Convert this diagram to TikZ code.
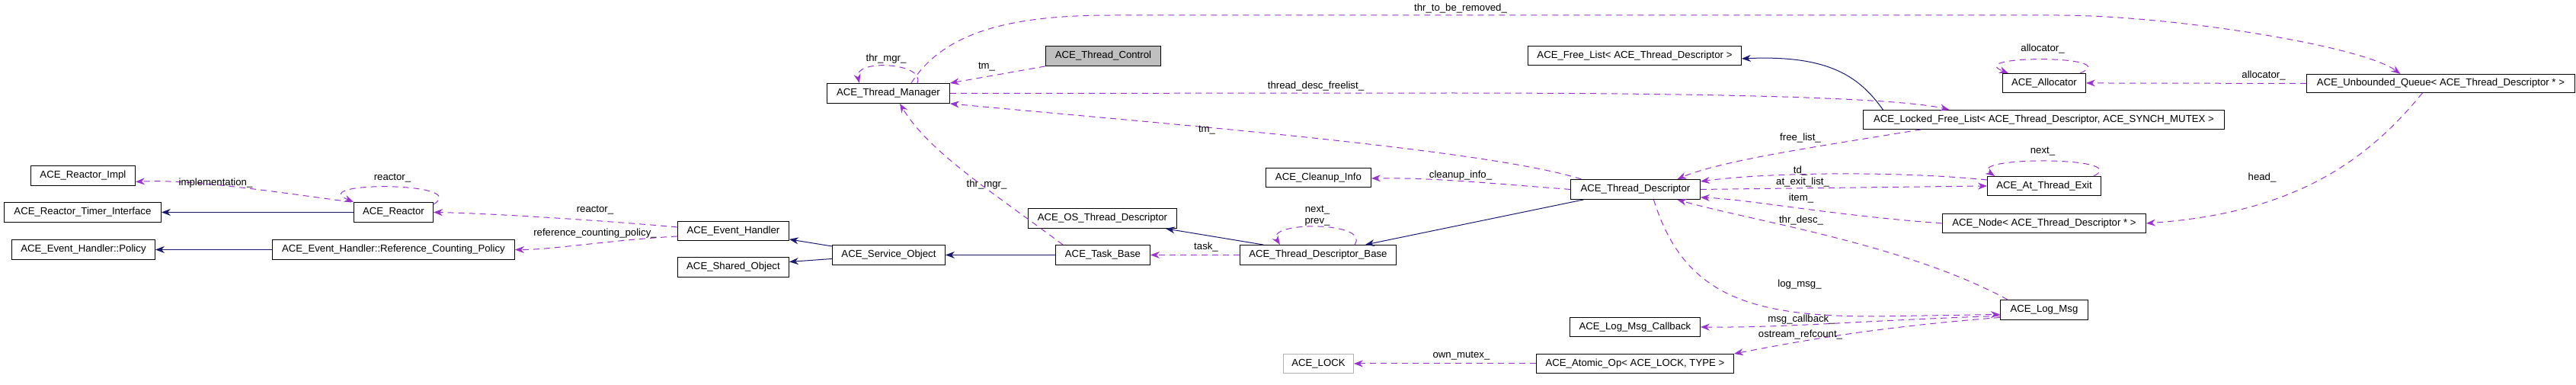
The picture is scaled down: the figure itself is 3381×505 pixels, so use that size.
\documentclass[tikz,border=0pt]{standalone}
\usepackage{fontspec}
\setmainfont{Liberation Sans}
\usetikzlibrary{arrows.meta,calc}
\definecolor{pu}{HTML}{9A32CD}
\definecolor{nv}{HTML}{191970}
\newcommand{\bx}[6]{\node[box,minimum width={(#4-#2)*1pt},minimum height={(#5-#3)*1pt}] (#1) at (#2,#3) {#6};}
\begin{document}
\begin{tikzpicture}[x=1pt,y=-1pt,
  box/.style={draw=black,line width=0.9pt,anchor=north west,inner sep=0pt,font=\fontsize{13.2}{15}\selectfont},
  lbl/.style={font=\fontsize{13.2}{15}\selectfont,inner sep=1pt},
  use/.style={draw=pu,line width=1pt,dash pattern=on 8pt off 6pt,-{Stealth[length=12pt,width=9pt]}},
  inh/.style={draw=nv,line width=1pt,-{Stealth[length=12pt,width=9pt]}}]
\useasboundingbox (0,0) rectangle (3381,505);
% nodes
\bx{ri}{40}{217}{177}{243}{ACE\_Reactor\_Impl}
\bx{rti}{5}{265}{211}{291}{ACE\_Reactor\_Timer\_Interface}
\bx{po}{15}{314}{203}{340}{ACE\_Event\_Handler::Policy}
\bx{re}{464}{265}{568}{291}{ACE\_Reactor}
\bx{rcp}{357}{314}{675}{340}{ACE\_Event\_Handler::Reference\_Counting\_Policy}
\bx{eh}{889}{290}{1035}{315}{ACE\_Event\_Handler}
\bx{sh}{889}{337}{1035}{363}{ACE\_Shared\_Object}
\bx{so}{1092}{321}{1240}{347}{ACE\_Service\_Object}
\bx{tm}{1085}{109}{1246}{135}{ACE\_Thread\_Manager}
\node[box,fill=black!25,minimum width=151pt,minimum height=26pt] (tc) at (1372,60) {ACE\_Thread\_Control};
\bx{ci}{1661}{220}{1799}{245}{ACE\_Cleanup\_Info}
\bx{ostd}{1349}{273}{1544}{299}{ACE\_OS\_Thread\_Descriptor}
\bx{tb}{1385}{321}{1509}{347}{ACE\_Task\_Base}
\bx{tdb}{1627}{321}{1832}{347}{ACE\_Thread\_Descriptor\_Base}
\bx{fl}{2005}{60}{2285}{85}{ACE\_Free\_List< ACE\_Thread\_Descriptor >}
\bx{td}{2061}{235}{2231}{261}{ACE\_Thread\_Descriptor}
\bx{lfl}{2445}{144}{2919}{169}{ACE\_Locked\_Free\_List< ACE\_Thread\_Descriptor, ACE\_SYNCH\_MUTEX >}
\bx{al}{2628}{96}{2737}{121}{ACE\_Allocator}
\bx{uq}{3027}{97}{3379}{121}{ACE\_Unbounded\_Queue< ACE\_Thread\_Descriptor * >}
\bx{ate}{2608}{231}{2757}{256}{ACE\_At\_Thread\_Exit}
\bx{nd}{2549}{280}{2816}{305}{ACE\_Node< ACE\_Thread\_Descriptor * >}
\bx{lm}{2625}{393}{2740}{419}{ACE\_Log\_Msg}
\bx{lcb}{2060}{416}{2231}{441}{ACE\_Log\_Msg\_Callback}
\bx{ao}{2016}{464}{2275}{489}{ACE\_Atomic\_Op< ACE\_LOCK, TYPE >}
\node[box,draw=black!30,minimum width=92pt,minimum height=25pt] (lock) at (1684,464) {ACE\_LOCK};
% inheritance
\draw[inh] (re.west) -- (rti.east);
\draw[inh] (rcp.west) -- (po.east);
\draw[inh] ([yshift=-2pt]so.north west) -- ([yshift=2pt]eh.south east);
\draw[inh] ([yshift=-5pt]so.west) -- ([yshift=7pt]sh.east);
\draw[inh] (tb.west) -- (so.east);
\draw[inh] ([xshift=-72pt]tdb.north) -- ([xshift=83pt]ostd.south);
\draw[inh] ([xshift=-68pt]td.south) -- ([xshift=62pt]tdb.north);
\draw[inh] ([xshift=-211pt]lfl.north) .. controls (2440,100) and (2400,72) .. ([yshift=-4pt]fl.east);
% usage
\draw[use] (tc.south west) -- (tm.north east);
\draw[use] ([xshift=38pt]tm.north) .. controls (1215,82) and (1120,77) .. ([xshift=-38pt]tm.north);
\draw[use] ([xshift=30pt]tm.north) .. controls (1240,40) and (1330,20) .. (1460,20) -- (2700,20) .. controls (2850,20) and (3100,60) .. ([xshift=-53pt]uq.north);
\draw[use] (tm.east) -- (1900,122) .. controls (2300,122) and (2500,130) .. ([xshift=-124pt]lfl.north);
\draw[use] ([xshift=-71pt]td.north) .. controls (1950,195) and (1500,160) .. (tm.south east);
\draw[use] ([xshift=10pt]tb.north west) .. controls (1300,250) and (1220,200) .. ([xshift=15pt]tm.south);
\draw[use] (td.west) .. controls (1950,240) and (1880,233) .. ([yshift=-1pt]ci.east);
\draw[use] ([xshift=-161pt]lfl.south) .. controls (2400,190) and (2260,210) .. ([xshift=55pt]td.north);
\draw[use] ([yshift=-5pt]ate.north west) .. controls (2500,225) and (2330,225) .. ([yshift=-3pt]td.north east);
\draw[use] (td.east) -- (ate.west);
\draw[use] ([xshift=-10pt]ate.north east) .. controls (2800,205) and (2580,205) .. ([xshift=10pt]ate.north west);
\draw[use] (nd.west) .. controls (2400,282) and (2300,262) .. ([yshift=3pt]td.south east);
\draw[use] ([xshift=10pt]lm.north west) .. controls (2500,320) and (2300,290) .. ([xshift=55pt]td.south);
\draw[use] ([xshift=24pt]td.south) .. controls (2210,390) and (2300,415) .. (2461,415) -- ([yshift=-6pt]lm.west);
\draw[use] ([yshift=-8pt]lm.west) .. controls (2450,420) and (2350,430) .. (lcb.east);
\draw[use] ([yshift=-10pt]lm.west) .. controls (2450,430) and (2350,450) .. (ao.north east);
\draw[use] (ao.west) -- (lock.east);
\draw[use] ([xshift=-24pt]uq.south) .. controls (3100,220) and (3000,280) .. (nd.east);
\draw[use] (uq.west) -- (al.east);
\draw[use] ([xshift=-8pt]al.north east) .. controls (2790,72) and (2575,72) .. ([xshift=8pt]al.north west);
\draw[use] (tdb.west) -- (tb.east);
\draw[use] ([xshift=48pt]tdb.north) .. controls (1800,290) and (1660,290) .. ([xshift=-50pt]tdb.north);
\draw[use] ([yshift=5pt]eh.west) .. controls (800,290) and (650,280) .. (re.east);
\draw[use] ([yshift=-7pt]eh.west) .. controls (800,315) and (720,328) .. (rcp.east);
\draw[use] ([xshift=-3pt]re.north west) .. controls (350,250) and (250,235) .. ([yshift=-8pt]ri.east);
\draw[use] ([yshift=-3pt]re.north east) .. controls (620,238) and (400,238) .. (re.north west);
% labels
\node[lbl] (l1) at (1295,88) {tm\_};
\node[lbl] (l2) at (1163,77) {thr\_mgr\_};
\node[lbl] (l3) at (1917,11) {thr\_to\_be\_removed\_};
\node[lbl] (l4) at (1727,113) {thread\_desc\_freelist\_};
\node[lbl] (l5) at (1584,171) {tm\_};
\node[lbl] (l6) at (1295,242) {thr\_mgr\_};
\node[lbl] (l7) at (1917,230) {cleanup\_info\_};
\node[lbl] (l8) at (2363,181) {free\_list\_};
\node[lbl] (l9) at (2363,224) {td\_};
\node[lbl] (l10) at (2366,239) {at\_exit\_list\_};
\node[lbl] (l11) at (2364,260) {item\_};
\node[lbl] (l12) at (2364,289) {thr\_desc\_};
\node[lbl] (l13) at (2681,199) {next\_};
\node[lbl] (l14) at (2681,64) {allocator\_};
\node[lbl] (l15) at (2971,99) {allocator\_};
\node[lbl] (l16) at (2969,233) {head\_};
\node[lbl] (l17) at (1729,276) {next\_};
\node[lbl] (l18) at (1729,291) {prev\_};
\node[lbl] (l19) at (1583,324) {task\_};
\node[lbl] (l20) at (2362,373) {log\_msg\_};
\node[lbl] (l21) at (2364,419) {msg\_callback\_};
\node[lbl] (l22) at (2363,439) {ostream\_refcount\_};
\node[lbl] (l23) at (1918,467) {own\_mutex\_};
\node[lbl] (l24) at (283,240) {implementation\_};
\node[lbl] (l25) at (515,234) {reactor\_};
\node[lbl] (l26) at (781,276) {reactor\_};
\node[lbl] (l27) at (781,306) {reference\_counting\_policy\_};
\end{tikzpicture}
\end{document}
